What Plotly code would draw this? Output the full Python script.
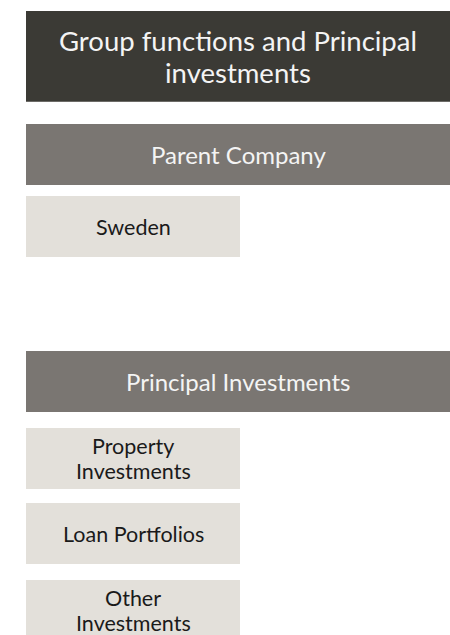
import plotly.graph_objects as go

# Diagram content
title_label = "Group functions and Principal\ninvestments"
section_labels = ["Parent Company", "Principal Investments"]
parent_items = ["Sweden"]
principal_items = ["Property\nInvestments", "Loan Portfolios", "Other\nInvestments"]

# Layout (pixel-based coordinates, y downwards)
W, H = 450, 635
LEFT = 26
ITEM_RIGHT = 240
DARK = "#3b3a35"
MID = "#7a7672"
LIGHT = "#e3e0da"
FONT = "Lato, 'Open Sans', sans-serif"

boxes = []  # (x0, y0, x1, y1, fill, text, textcolor, size, line_spacing)
boxes.append((LEFT, 11, W, 101.7, DARK, title_label, "#f4f4f4", 27.5, 32))
section_tops = [124, 351]
for lbl, top in zip(section_labels, section_tops):
    boxes.append((LEFT, top, W, top + 61, MID, lbl, "#f4f4f4", 24, 28))
for i, lbl in enumerate(parent_items):
    top = 196 + i * 76
    boxes.append((LEFT, top, ITEM_RIGHT, top + 61, LIGHT, lbl, "#1a1a1a", 21.5, 24))
item_tops = [428, 503, 580]
for lbl, top in zip(principal_items, item_tops):
    boxes.append((LEFT, top, ITEM_RIGHT, top + 61, LIGHT, lbl, "#1a1a1a", 21.5, 24.5))

fig = go.Figure()
shapes = []
annotations = []
for x0, y0, x1, y1, fill, text, tc, size, ls in boxes:
    shapes.append(dict(type="rect", xref="x", yref="y", x0=x0, y0=y0, x1=x1, y1=y1,
                       fillcolor=fill, line=dict(width=0), layer="below"))
    lines = text.split("\n")
    n = len(lines)
    yc = (y0 + y1) / 2
    for i, ln in enumerate(lines):
        annotations.append(dict(x=(x0 + x1) / 2, y=yc + (i - (n - 1) / 2) * ls,
                                xref="x", yref="y",
                                text=ln, showarrow=False,
                                font=dict(family=FONT, size=size, color=tc),
                                xanchor="center", yanchor="middle", align="center"))

fig.add_trace(go.Scatter(x=[0, W], y=[0, H], mode="markers",
                         marker=dict(opacity=0), hoverinfo="skip", showlegend=False))
fig.update_layout(
    width=W, height=H,
    margin=dict(l=0, r=0, t=0, b=0),
    paper_bgcolor="white", plot_bgcolor="white",
    shapes=shapes, annotations=annotations,
    xaxis=dict(range=[0, W], visible=False, fixedrange=True),
    yaxis=dict(range=[H, 0], visible=False, fixedrange=True),
    showlegend=False,
)
fig.write_html("out.html", config={"displayModeBar": False},
               post_script="document.body.style.margin='0';")
